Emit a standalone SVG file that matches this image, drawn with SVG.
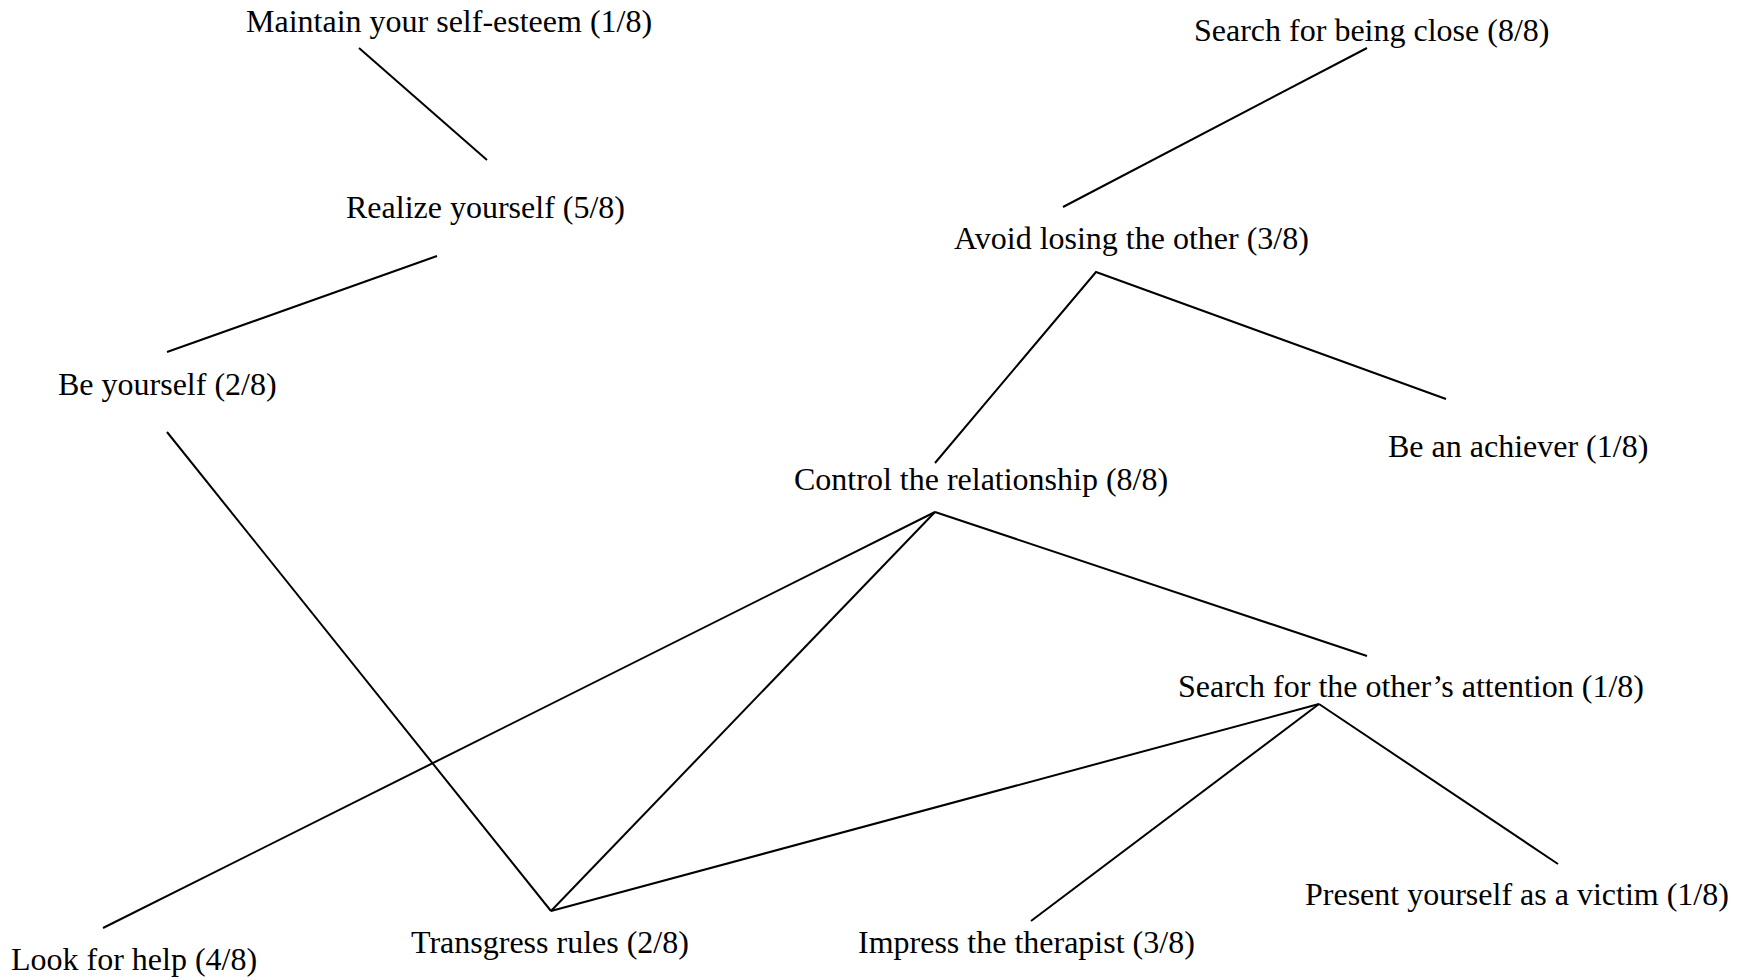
<svg xmlns="http://www.w3.org/2000/svg" width="1754" height="980" viewBox="0 0 1754 980">
<style>
text { font-family: "Liberation Serif", "Times New Roman", serif; font-size: 32px; fill: #000; }
.edge { stroke: #000; stroke-width: 2; fill: none; stroke-linecap: butt; }
</style>
<rect x="0" y="0" width="1754" height="980" fill="#fff"/>
<g id="connectors">
<line class="edge" x1="359" y1="48" x2="487" y2="160"/>
<line class="edge" x1="437" y1="256" x2="167" y2="352"/>
<line class="edge" x1="167" y1="432" x2="551" y2="911"/>
<line class="edge" x1="1367" y1="48" x2="1063" y2="207"/>
<polyline class="edge" points="935,463 1096,272 1446,399"/>
<line class="edge" x1="935" y1="512" x2="103" y2="928"/>
<line class="edge" x1="935" y1="512" x2="551" y2="911"/>
<line class="edge" x1="935" y1="512" x2="1367" y2="656"/>
<line class="edge" x1="1319" y1="704" x2="551" y2="911"/>
<line class="edge" x1="1319" y1="704" x2="1031" y2="921"/>
<line class="edge" x1="1319" y1="704" x2="1558" y2="864"/>
</g>
<g id="maintain"><text x="246" y="32">Maintain your self-esteem (1/8)</text></g>
<g id="search-close"><text x="1194" y="41">Search for being close (8/8)</text></g>
<g id="realize"><text x="346" y="217.5">Realize yourself (5/8)</text></g>
<g id="avoid"><text x="954" y="249">Avoid losing the other (3/8)</text></g>
<g id="be-yourself"><text x="58" y="394.5">Be yourself (2/8)</text></g>
<g id="achiever"><text x="1388" y="457">Be an achiever (1/8)</text></g>
<g id="control"><text x="794" y="489.5">Control the relationship (8/8)</text></g>
<g id="attention"><text x="1178" y="697">Search for the other’s attention (1/8)</text></g>
<g id="victim"><text x="1305" y="905">Present yourself as a victim (1/8)</text></g>
<g id="impress"><text x="858" y="953">Impress the therapist (3/8)</text></g>
<g id="transgress"><text x="411" y="953">Transgress rules (2/8)</text></g>
<g id="help"><text x="11" y="969.5">Look for help (4/8)</text></g>
</svg>
